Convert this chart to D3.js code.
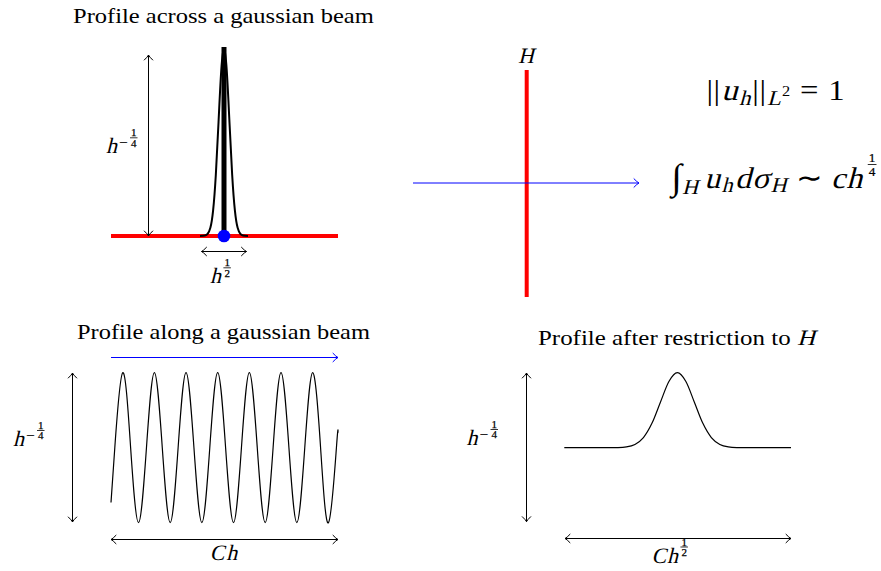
<!DOCTYPE html>
<html><head><meta charset="utf-8">
<script src="https://cdn.jsdelivr.net/npm/d3@7"></script>
<style>
body{margin:0;background:#fff}
svg{display:block}
text{font-family:"Liberation Serif",serif;fill:#000}
</style>
</head><body>
<svg id="c" width="881" height="571"></svg>
<script>
// ---------------- data ----------------
const titleAcross = "Profile across a gaussian beam";
const titleAlong = "Profile along a gaussian beam";
const titleRestrict = "Profile after restriction to";
// profile across the beam (x in beam widths, relative height)
const acrossX = [-4.4,-3.5,-3,-2.5,-2,-1.5,-1,-0.5,0,0.5,1,1.5,2,2.5,3,3.5,4.4];
const acrossY = [0,0.0022,0.0111,0.0439,0.1353,0.3247,0.6065,0.8825,1,0.8825,0.6065,0.3247,0.1353,0.0439,0.0111,0.0022,0];
// profile along the beam (t in periods, relative amplitude)
const alongT = [0,0.12,0.37,0.62,0.87,1.12,1.37,1.62,1.87,2.12,2.37,2.62,2.87,3.12,3.37,3.62,3.87,4.12,4.37,4.62,4.87,5.12,5.37,5.62,5.87,6.12,6.37,6.62,6.87,7.12,7.17];
const alongV = [-0.73,0,1,0,-1,0,1,0,-1,0,1,0,-1,0,1,0,-1,0,1,0,-1,0,1,0,-1,0,1,0,-1,0,0.2];
// profile after restriction to H
const restrictX = [-6.66,-4,-3.5,-3,-2.5,-2,-1.5,-1,-0.5,0,0.5,1,1.5,2,2.5,3,3.5,4,6.69];
const restrictY = [0,0.0003,0.0022,0.0111,0.0439,0.1353,0.3247,0.6065,0.8825,1,0.8825,0.6065,0.3247,0.1353,0.0439,0.0111,0.0022,0.0003,0];

// ---------------- setup ----------------
const svg = d3.select("#c");
const defs = svg.append("defs");
function mk(id, col){
  defs.append("marker").attr("id",id).attr("viewBox","-7 -6 8 12")
    .attr("refX",0).attr("refY",0).attr("markerWidth",8).attr("markerHeight",12)
    .attr("markerUnits","userSpaceOnUse").attr("orient","auto-start-reverse")
    .append("path").attr("d","M-5,-4.2 Q-1.8,-0.8 0,0 Q-1.8,0.8 -5,4.2")
    .attr("fill","none").attr("stroke",col).attr("stroke-width",1).attr("stroke-linecap","round");
}
mk("tk","#000"); mk("tb","#0000ff");

function arrow(x1,y1,x2,y2,col,both){
  const m = col==="blue"?"tb":"tk";
  svg.append("line").attr("x1",x1).attr("y1",y1).attr("x2",x2).attr("y2",y2)
    .attr("stroke",col==="blue"?"#0000ff":"#000").attr("stroke-width",1)
    .attr("marker-end",`url(#${m})`)
    .attr("marker-start",both?`url(#${m})`:null);
}

// simple math-row typesetter (italic simulated by slanting the upright serif)
function mathRow(items, x, y, fs, anchor, targetW){
  const outer = svg.append("g");
  const g = outer.append("g");
  let cx = 0;
  items.forEach(it=>{
    cx += (it.gap||0);
    if(it.frac){
      const s = it.fs || fs*0.45;
      const sep = it.sep || 1.4;
      const bar = y + (it.bar!==undefined?it.bar:-fs*0.8);
      const t1 = g.append("text").attr("font-size",s).attr("stroke","#000").attr("stroke-width",0.25).text(it.frac[0]);
      const t2 = g.append("text").attr("font-size",s).attr("stroke","#000").attr("stroke-width",0.25).text(it.frac[1]);
      const w = Math.max(t1.node().getComputedTextLength(),t2.node().getComputedTextLength())+2;
      t1.attr("x",cx+w/2).attr("text-anchor","middle").attr("y",bar-sep);
      t2.attr("x",cx+w/2).attr("text-anchor","middle").attr("y",bar+s*0.68+sep);
      g.append("line").attr("x1",cx).attr("x2",cx+w).attr("y1",bar).attr("y2",bar)
        .attr("stroke","#000").attr("stroke-width",0.8);
      cx += w;
    } else {
      const size = fs*(it.s||1);
      const gg = g.append("g").attr("transform",`translate(${cx},${y+(it.dy||0)})${it.i?" skewX(-14)":""}`);
      const t = gg.append("text").attr("font-size",size).text(it.t);
      cx += t.node().getComputedTextLength() + (it.i? size*0.04:0);
    }
  });
  const sx = targetW ? targetW/cx : 1;
  const W = cx*sx;
  const off = anchor==="middle"? x-W/2 : anchor==="end"? x-W : x;
  outer.attr("transform",`translate(${off},0) scale(${sx},1)`);
  return outer;
}
const FL = 22; // label font size
function powLabel(base, sign, num, den, x, y){
  const items = base.map(b=>({t:b,i:true}));
  if(sign) items.push({t:"\u2212",s:0.72,dy:-5.4,gap:1.2});
  items.push({frac:[num,den],fs:11,bar:-15.5,gap:sign?2:1.5});
  mathRow(items,x,y,FL,"start");
}

// ---------------- titles ----------------
mathRow([{t:titleAcross}],73,22.5,22,"start",301);
mathRow([{t:titleAlong}],77,338.5,22,"start",293);
mathRow([{t:titleRestrict},{t:"H",i:true,gap:5.5}],538,345,22,"start",278);

// ---------------- panel 1 ----------------
const x1s = d3.scaleLinear().domain(d3.extent(acrossX)).range([200,248]);
const y1s = d3.scaleLinear().domain([0,1]).range([236,48]);
svg.append("line").attr("x1",111).attr("x2",338).attr("y1",y1s(0)).attr("y2",y1s(0))
  .attr("stroke","#ff0000").attr("stroke-width",4);
svg.append("path").datum(acrossX.map((d,i)=>[d,acrossY[i]]))
  .attr("d",d3.line().x(d=>x1s(d[0])).y(d=>y1s(d[1])).curve(d3.curveNatural))
  .attr("fill","none").attr("stroke","#000").attr("stroke-width",2);
svg.append("line").attr("x1",x1s(0)).attr("x2",x1s(0)).attr("y1",y1s(1.005)).attr("y2",y1s(0))
  .attr("stroke","#000").attr("stroke-width",5);
svg.append("circle").attr("cx",x1s(0)).attr("cy",y1s(0)).attr("r",6.3).attr("fill","#0000ff");
arrow(148.5,y1s(0),148.5,55,"black",true);
arrow(201.5,251.5,246.5,251.5,"black",true);
powLabel(["h"],true,"1","4",106,153.3);
powLabel(["h"],false,"1","2",210,283.3);

// ---------------- panel 2 ----------------
svg.append("line").attr("x1",526.7).attr("x2",526.7).attr("y1",70).attr("y2",297)
  .attr("stroke","#ff0000").attr("stroke-width",4);
arrow(413,183,639,183,"blue",false);
mathRow([{t:"H",i:true}],526.5,62.7,FL,"middle");
const FE = 30;
mathRow([
  {t:"|"},{t:"|",gap:0.5},{t:"u",i:true,gap:1},{t:"h",i:true,s:0.7,dy:4.5},{t:"|",gap:1},{t:"|",gap:0.5},
  {t:"L",i:true,s:0.7,dy:5,gap:1},{t:"2",s:0.5,dy:-4},
  {t:"=",gap:9},{t:"1",gap:9}
],706.5,100,FE,"start",138);
mathRow([
  {t:"\u222B",s:1.2,dy:1},{t:"H",i:true,s:0.7,dy:6},
  {t:"u",i:true,gap:5},{t:"h",i:true,s:0.7,dy:4.5},
  {t:"d",i:true,gap:1.5},{t:"\u03C3",i:true},{t:"H",i:true,s:0.7,dy:4.5},
  {t:"\u223C",gap:8},{t:"c",i:true,gap:8},{t:"h",i:true},
  {frac:["1","4"],fs:12.5,bar:-23,gap:4,sep:2.6}
],671.5,187.5,FE,"start",205);

// ---------------- panel 3 ----------------
arrow(111,357.5,338,357.5,"blue",false);
const x3s = d3.scaleLinear().domain(d3.extent(alongT)).range([111,338]);
const y3s = d3.scaleLinear().domain([-1,1]).range([522.7,372.7]);
svg.append("path").datum(alongT.map((d,i)=>[d,alongV[i]]))
  .attr("d",d3.line().x(d=>x3s(d[0])).y(d=>y3s(d[1])).curve(d3.curveNatural))
  .attr("fill","none").attr("stroke","#000").attr("stroke-width",1.2);
arrow(72.5,373,72.5,522,"black",true);
arrow(111,539.5,338,539.5,"black",true);
powLabel(["h"],true,"1","4",13,446);
mathRow([{t:"C",i:true},{t:"h",i:true,gap:1}],224,560,FL,"middle");

// ---------------- panel 4 ----------------
const x4s = d3.scaleLinear().domain(d3.extent(restrictX)).range([564.3,791]);
const y4s = d3.scaleLinear().domain([0,1]).range([447.7,372.7]);
svg.append("path").datum(restrictX.map((d,i)=>[d,restrictY[i]]))
  .attr("d",d3.line().x(d=>x4s(d[0])).y(d=>y4s(d[1])).curve(d3.curveMonotoneX))
  .attr("fill","none").attr("stroke","#000").attr("stroke-width",1.2);
arrow(526.5,373,526.5,521.7,"black",true);
arrow(565,538.5,791,538.5,"black",true);
powLabel(["h"],true,"1","4",466.5,445);
powLabel(["C","h"],false,"1","2",651.5,562.5);
</script>
</body></html>
